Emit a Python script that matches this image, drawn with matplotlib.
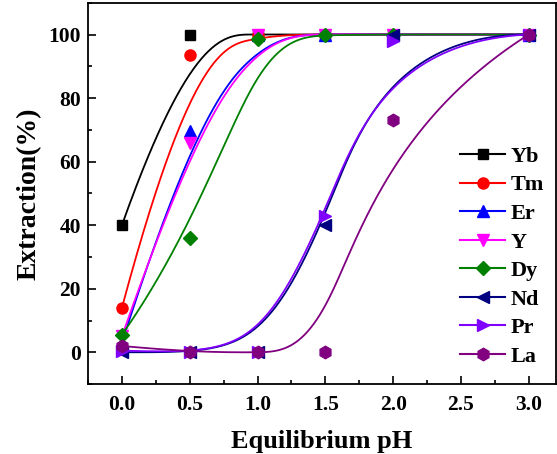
import numpy as np
import matplotlib.pyplot as plt
from matplotlib.ticker import MultipleLocator

# 数据
ph = [0.0, 0.5, 1.0, 1.5, 2.0, 3.0]
names = ['Yb', 'Tm', 'Er', 'Y', 'Dy', 'Nd', 'Pr', 'La']
yb = [40, 100, 100, 100, 100, 100]
tm = [14, 93.5, 100, 100, 100, 100]
er = [3, 69.5, 100, 100, 100, 100]
yy = [5, 66, 100, 100, 100, 100]
dy = [5.5, 36, 98.5, 100, 100, 100]
nd = [0, 0, 0, 40, 100, 100]
pr = [0.5, 0, 0, 43, 98, 100]
la = [2, 0, 0, 0, 73, 100]

colors = ['black', 'red', 'blue', '#ff00ff', '#008000', '#000080', '#8000ff', '#800080']
markers = ['s', 'o', '^', 'v', 'D', '<', '>', 'h']
sizes = [7, 8, 8.5, 8.5, 7, 8.5, 8.5, 9]


# B样条连线 (数据点作为控制点, 与Origin的B-Spline连线相同)
def bspline(cx, cy, k=3, n=400):
    cx = np.asarray(cx, float)
    cy = np.asarray(cy, float)
    m = len(cx)
    knots = np.concatenate([np.zeros(k), np.arange(0, m - k + 1), np.full(k, m - k)]).astype(float)
    t = np.linspace(0, m - k, n)
    t[-1] -= 1e-9
    # 0阶基函数
    B = np.zeros((n, len(knots) - 1))
    for i in range(len(knots) - 1):
        B[:, i] = (t >= knots[i]) & (t < knots[i + 1])
    for d in range(1, k + 1):
        Bn = np.zeros((n, len(knots) - 1 - d))
        for i in range(len(knots) - 1 - d):
            a = knots[i + d] - knots[i]
            b = knots[i + d + 1] - knots[i + 1]
            left = (t - knots[i]) / a * B[:, i] if a > 0 else 0
            right = (knots[i + d + 1] - t) / b * B[:, i + 1] if b > 0 else 0
            Bn[:, i] = left + right
        B = Bn
    return B @ cx, B @ cy


plt.rcParams['font.family'] = ['Liberation Serif', 'DejaVu Serif']
plt.rcParams['font.weight'] = 'bold'

fig = plt.figure(figsize=(5.57, 4.54), dpi=100)
ax = fig.add_axes([0.158, 0.154, 0.840, 0.840])

for i, ys in enumerate([yb, tm, er, yy, dy, nd, pr, la]):
    bx, by = bspline(ph, ys)
    ax.plot(bx, by, color=colors[i], lw=1.3)
    ax.plot(ph, ys, linestyle='none', marker=markers[i], color=colors[i], ms=sizes[i])
    ax.plot([], [], color=colors[i], marker=markers[i], ms=sizes[i], lw=1.5, label=names[i])

ax.set_xlim(-0.25, 3.2)
ax.set_ylim(-10, 110)
ax.set_xticks([0, 0.5, 1.0, 1.5, 2.0, 2.5, 3.0])
ax.set_yticks([0, 20, 40, 60, 80, 100])
ax.xaxis.set_minor_locator(MultipleLocator(0.25))
ax.yaxis.set_minor_locator(MultipleLocator(10))
ax.tick_params(which='both', direction='in', top=False, right=False, labelsize=15.5, width=1.2)
ax.tick_params(axis='x', which='major', pad=8)
ax.tick_params(axis='y', which='major', pad=5)
ax.tick_params(which='major', length=6)
ax.tick_params(which='minor', length=3)
for sp in ax.spines.values():
    sp.set_linewidth(1.3)

ax.set_xlabel('Equilibrium pH', fontsize=19, fontweight='bold', labelpad=11)
ax.set_ylabel('Extraction(%)', fontsize=20, fontweight='bold', labelpad=5)

ax.legend(loc='lower right', bbox_to_anchor=(0.993, 0.022), frameon=False, fontsize=16,
          handlelength=2.0, labelspacing=0.36, handletextpad=0.25, borderaxespad=0.0)

plt.savefig('out.png', dpi=100)
